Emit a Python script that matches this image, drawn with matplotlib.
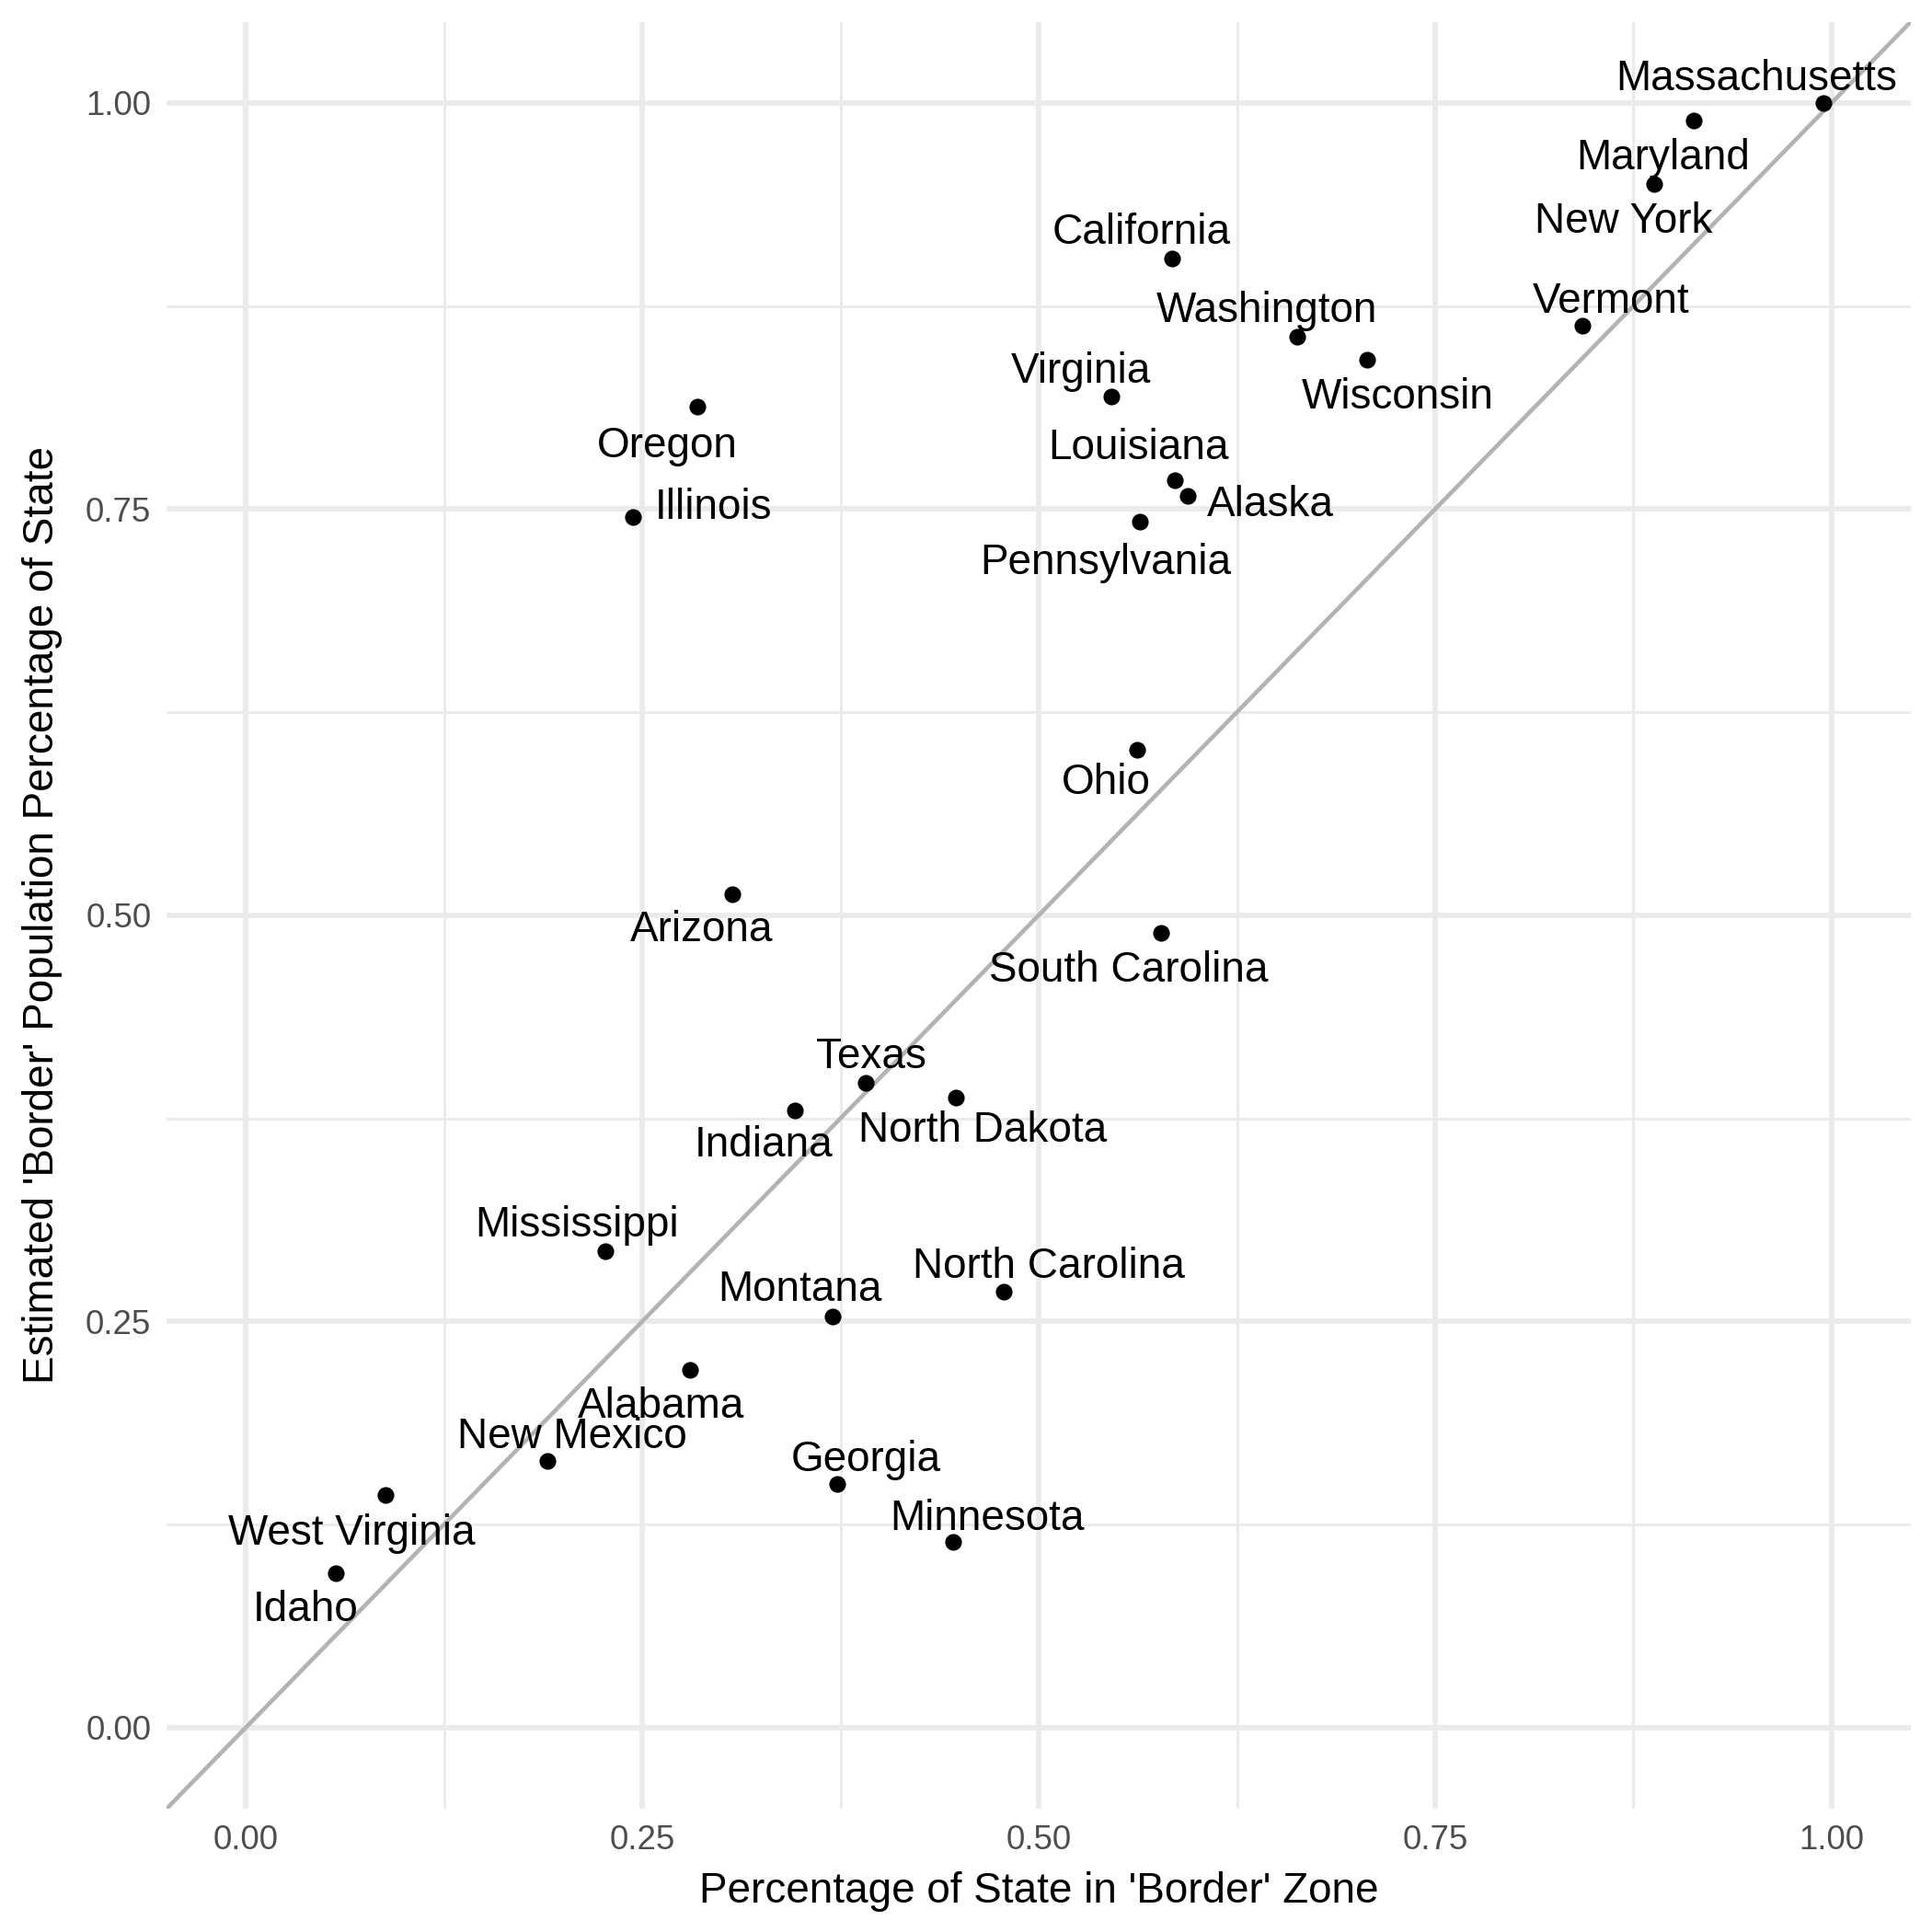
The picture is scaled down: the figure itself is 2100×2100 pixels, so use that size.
import matplotlib
matplotlib.use("Agg")
import matplotlib.pyplot as plt
import numpy as np

plt.rcParams['font.family'] = ['Liberation Sans', 'DejaVu Sans']

states = ["Massachusetts", "Maryland", "New York", "California", "Vermont",
          "Washington", "Wisconsin", "Virginia", "Oregon", "Louisiana",
          "Alaska", "Illinois", "Pennsylvania", "Ohio", "Arizona",
          "South Carolina", "Texas", "North Dakota", "Indiana", "Mississippi",
          "North Carolina", "Montana", "Alabama", "New Mexico", "Georgia",
          "West Virginia", "Minnesota", "Idaho"]
border_area = [0.995, 0.913, 0.888, 0.584, 0.843,
               0.663, 0.707, 0.546, 0.285, 0.586,
               0.594, 0.244, 0.564, 0.562, 0.307,
               0.577, 0.391, 0.448, 0.346, 0.227,
               0.478, 0.370, 0.280, 0.190, 0.373,
               0.088, 0.446, 0.057]
border_pop = [1.000, 0.989, 0.950, 0.904, 0.863,
              0.856, 0.842, 0.819, 0.813, 0.768,
              0.758, 0.745, 0.742, 0.602, 0.513,
              0.489, 0.397, 0.388, 0.380, 0.293,
              0.268, 0.253, 0.220, 0.164, 0.150,
              0.143, 0.114, 0.095]

# label offsets (points), repel-style placement
offsets = [(-17.5, 6.2), (-8, -9.8), (-8, -9.8), (-8, 6.7), (7.5, 6.2),
           (-8, 6.7), (8, -9.8), (-8, 6.7), (-8, -10.3), (-9.5, 8.2),
           (21.5, -2.4), (21, 2.4), (-9, -10.8), (-8, -8.8), (-8, -9.3),
           (-8.5, -9.8), (1.3, 6.7), (7, -8.8), (-8, -9.3), (-7.5, 6.7),
           (11.6, 6.7), (-8.4, 6.9), (-7.5, -9.5), (6.4, 6.2), (7.4, 6.2),
           (-8.7, -10.1), (9, 6.2), (-8, -9.5)]

fig = plt.figure(figsize=(7, 7), dpi=300)
ax = fig.add_axes([0.0862, 0.0638, 0.9029, 0.925])

ticks = [0, 0.25, 0.5, 0.75, 1.0]
minor = [0.125, 0.375, 0.625, 0.875]
for t in ticks:
    ax.axvline(t, color='#EBEBEB', lw=1.4, zorder=0)
    ax.axhline(t, color='#EBEBEB', lw=1.4, zorder=0)
for t in minor:
    ax.axvline(t, color='#EBEBEB', lw=0.7, zorder=0)
    ax.axhline(t, color='#EBEBEB', lw=0.7, zorder=0)

ax.axline((0, 0), slope=1, color='#B3B3B3', lw=1.1, zorder=1)
ax.scatter(border_area, border_pop, s=19, color='black', zorder=3, linewidths=0)

for name, x, y, off in zip(states, border_area, border_pop, offsets):
    ax.annotate(name, (x, y), xytext=off, textcoords='offset points',
                ha='center', va='center', fontsize=11, color='black', zorder=4)

ax.set_xlim(-0.05, 1.05)
ax.set_ylim(-0.05, 1.05)
ax.set_xticks(ticks)
ax.set_yticks(ticks)
ax.set_xticklabels([f"{t:.2f}" for t in ticks])
ax.set_yticklabels([f"{t:.2f}" for t in ticks])
ax.tick_params(length=0, labelsize=8.8, labelcolor='#4D4D4D', pad=4)
for s in ax.spines.values():
    s.set_visible(False)

ax.set_xlabel("Percentage of State in 'Border' Zone", fontsize=11, labelpad=4)
ax.set_ylabel("Estimated 'Border' Population Percentage of State", fontsize=11, labelpad=6)

fig.savefig("out.png", dpi=300)
